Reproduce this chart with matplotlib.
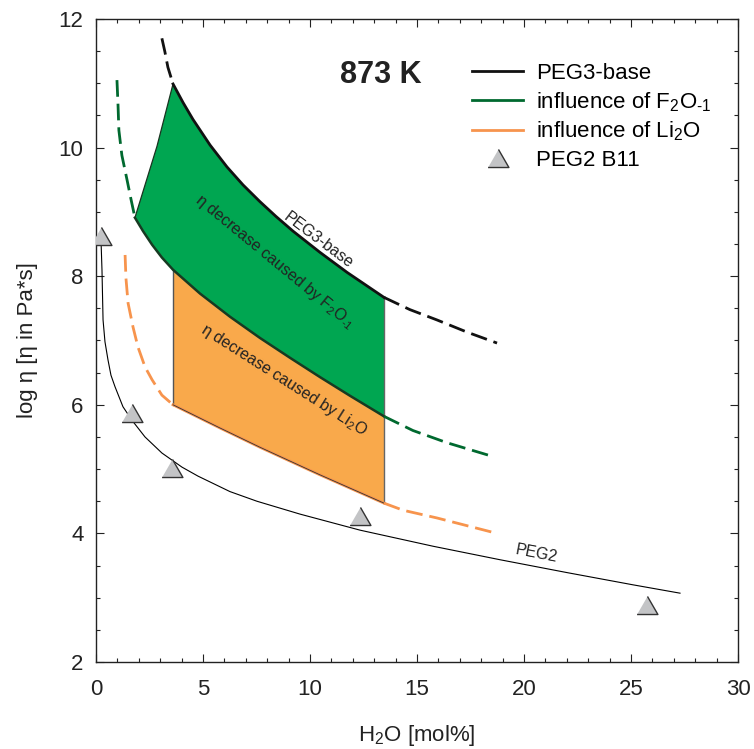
import numpy as np
import matplotlib.pyplot as plt
from matplotlib.lines import Line2D
from matplotlib.ticker import MultipleLocator

plt.rcParams['font.family'] = ['Liberation Sans', 'DejaVu Sans']
plt.rcParams['mathtext.fontset'] = 'custom'
plt.rcParams['mathtext.rm'] = 'Liberation Sans'
plt.rcParams['mathtext.it'] = 'Liberation Sans:italic'
plt.rcParams['mathtext.bf'] = 'Liberation Sans:bold'

# PEG3-base model, 873 K (dashed = extrapolated)
peg3_x_lo = [3.08, 3.22, 3.36, 3.60]
peg3_y_lo = [11.70, 11.49, 11.25, 10.99]
peg3_x = [3.60, 4.07, 4.53, 5.33, 6.12, 6.87, 7.66, 8.41, 9.21, 10.47, 11.73, 13.46]
peg3_y = [10.99, 10.70, 10.44, 10.04, 9.70, 9.42, 9.16, 8.93, 8.70, 8.37, 8.06, 7.67]
peg3_x_hi = [13.46, 14.67, 15.93, 17.34, 18.74]
peg3_y_hi = [7.67, 7.48, 7.32, 7.13, 6.96]

# influence of F2O-1
fl_x_lo = [0.98, 1.03, 1.07, 1.21, 1.45, 1.64, 1.82]
fl_y_lo = [11.05, 10.66, 10.27, 9.88, 9.50, 9.19, 8.91]
fl_x = [1.82, 2.20, 2.62, 3.08, 3.60, 4.86, 6.26, 7.66, 9.07, 10.47, 11.87, 13.46]
fl_y = [8.91, 8.70, 8.49, 8.29, 8.10, 7.73, 7.37, 7.04, 6.73, 6.43, 6.14, 5.82]
fl_x_hi = [13.46, 14.81, 16.40, 18.50]
fl_y_hi = [5.82, 5.60, 5.41, 5.20]

# left boundary of the F2O-1 field
edge_x = [1.82, 2.85, 3.60]
edge_y = [8.91, 10.02, 10.99]

# influence of Li2O
li_x_lo = [1.36, 1.40, 1.50, 1.73, 1.96, 2.29, 2.62, 3.08, 3.60]
li_y_lo = [8.33, 7.97, 7.58, 7.21, 6.90, 6.59, 6.39, 6.15, 6.00]
li_x = [3.60, 5.79, 7.66, 10.47, 13.46]
li_y = [6.00, 5.64, 5.34, 4.91, 4.47]
li_x_hi = [13.46, 14.35, 15.93, 18.50]
li_y_hi = [4.47, 4.36, 4.24, 4.02]

# PEG2 model and measured B11 samples
peg2_x = [0.23, 0.28, 0.33, 0.42, 0.56, 0.70, 0.89, 1.26, 1.68, 2.29, 3.08, 4.02, 4.77,
          6.26, 7.52, 9.53, 12.34, 15.75, 18.88, 22.01, 25.09, 27.29]
peg2_y = [8.61, 8.10, 7.32, 6.98, 6.70, 6.46, 6.28, 5.97, 5.76, 5.50, 5.25, 5.03, 4.89,
          4.65, 4.50, 4.30, 4.05, 3.80, 3.59, 3.39, 3.20, 3.07]
b11_x = [0.23, 1.68, 3.55, 12.34, 25.75]
b11_y = [8.63, 5.87, 5.02, 4.27, 2.89]

c_fill_green = '#00a651'
c_green = '#00692f'
c_fill_orange = '#f9a94b'
c_orange = '#f7944d'
tri = [(-1, -0.866), (1, -0.866), (0, 0.866)]
dash = (0, (6, 2.5))

fig = plt.figure(figsize=(7.54, 7.49), dpi=100)
ax = fig.add_axes([0.1273, 0.1162, 0.8515, 0.8584])

# shaded fields
fl_x_a, fl_y_a = np.array(fl_x), np.array(fl_y)
green_px = np.concatenate([peg3_x, fl_x[::-1], edge_x[1:2]])
green_py = np.concatenate([peg3_y, fl_y[::-1], edge_y[1:2]])
ax.fill(green_px, green_py, color=c_fill_green, lw=0, zorder=1)
m = fl_x_a >= li_x[0]
orange_px = np.concatenate([fl_x_a[m], li_x[::-1]])
orange_py = np.concatenate([fl_y_a[m], li_y[::-1]])
ax.fill(orange_px, orange_py, color=c_fill_orange, lw=0, zorder=1)

# field borders
ax.plot(edge_x, edge_y, color='#1a3320', lw=0.9, zorder=2)
ax.plot([li_x[0], li_x[0]], [li_y[0], fl_y_a[m][0]], color='#555555', lw=1.0, zorder=2)
ax.plot([peg3_x[-1], peg3_x[-1]], [li_y[-1], peg3_y[-1]], color='#666666', lw=1.0, zorder=2)

# PEG2 line and samples
ax.plot(peg2_x, peg2_y, color='black', lw=0.8, zorder=3)
ax.plot(b11_x, b11_y, ls='none', marker=tri, ms=15, mfc='#c3c4c6', mec='#333333', mew=1.0, zorder=4)

# model curves
ax.plot(li_x, li_y, color=c_orange, lw=2.0, zorder=3)
ax.plot(li_x, li_y, color='#333333', lw=0.6, zorder=3)
ax.plot(li_x_lo, li_y_lo, color=c_orange, lw=2.0, ls=dash, zorder=3)
ax.plot(li_x_hi, li_y_hi, color=c_orange, lw=2.0, ls=dash, zorder=3)

ax.plot(fl_x, fl_y, color='#173a22', lw=1.8, zorder=3)
ax.plot(fl_x_lo, fl_y_lo, color=c_green, lw=2.0, ls=dash, zorder=3)
ax.plot(fl_x_hi, fl_y_hi, color=c_green, lw=2.0, ls=dash, zorder=3)

ax.plot(peg3_x, peg3_y, color='#111111', lw=2.0, zorder=3)
ax.plot(peg3_x_lo, peg3_y_lo, color='#111111', lw=2.0, ls=dash, zorder=3)
ax.plot(peg3_x_hi, peg3_y_hi, color='#111111', lw=2.0, ls=dash, zorder=3)

# labels on the curves
ax.text(10.4, 8.56, 'PEG3-base', fontsize=11.5, rotation=-37, rotation_mode='anchor',
        ha='center', va='center', color='#222222', zorder=5)
ax.text(8.36, 8.22, r'η decrease caused by F$_2$O$_{\text{-1}}$', fontsize=11.5, rotation=-39.5,
        rotation_mode='anchor', ha='center', va='center', color='#222222', zorder=5)
ax.text(8.76, 6.39, 'η decrease caused by Li$_2$O', fontsize=11.5, rotation=-32.5,
        rotation_mode='anchor', ha='center', va='center', color='#222222', zorder=5)
ax.text(20.6, 3.68, 'PEG2', fontsize=11.5, rotation=-11, rotation_mode='anchor',
        ha='center', va='center', color='#222222', zorder=5)
ax.text(13.3, 11.13, '873 K', fontsize=22, fontweight='bold', ha='center', va='center',
        color='#222222')

handles = [
    Line2D([], [], color='#111111', lw=2.0),
    Line2D([], [], color=c_green, lw=2.0),
    Line2D([], [], color=c_orange, lw=2.0),
    Line2D([], [], ls='none', marker=tri, ms=15, mfc='#c3c4c6', mec='#333333', mew=1.0),
]
labels = ['PEG3-base', r'influence of F$_2$O$_{\text{-1}}$', 'influence of Li$_2$O', 'PEG2 B11']
ax.legend(handles, labels, loc='upper left', bbox_to_anchor=(0.586, 0.932), frameon=False,
          fontsize=16, borderpad=0, borderaxespad=0, handlelength=2.3, handletextpad=0.59,
          labelspacing=0.28)

ax.set_xlim(0, 30)
ax.set_ylim(2, 12)
ax.xaxis.set_major_locator(MultipleLocator(5))
ax.xaxis.set_minor_locator(MultipleLocator(1))
ax.yaxis.set_major_locator(MultipleLocator(2))
ax.yaxis.set_minor_locator(MultipleLocator(0.5))
ax.tick_params(which='both', direction='in', top=True, right=True, width=0.8,
               labelsize=16, colors='#222222')
ax.tick_params(which='major', length=5.5, pad=9)
ax.tick_params(axis='x', which='major', pad=12)
ax.tick_params(which='minor', length=3)
for s in ax.spines.values():
    s.set_linewidth(1.0)
    s.set_color('#222222')

ax.set_xlabel('H$_2$O [mol%]', fontsize=16, color='#222222')
ax.set_ylabel('log η [η in Pa*s]', fontsize=16, color='#222222')
ax.xaxis.set_label_coords(0.5, -0.095)
ax.yaxis.set_label_coords(-0.09, 0.5)

fig.savefig('out.png', dpi=100)
